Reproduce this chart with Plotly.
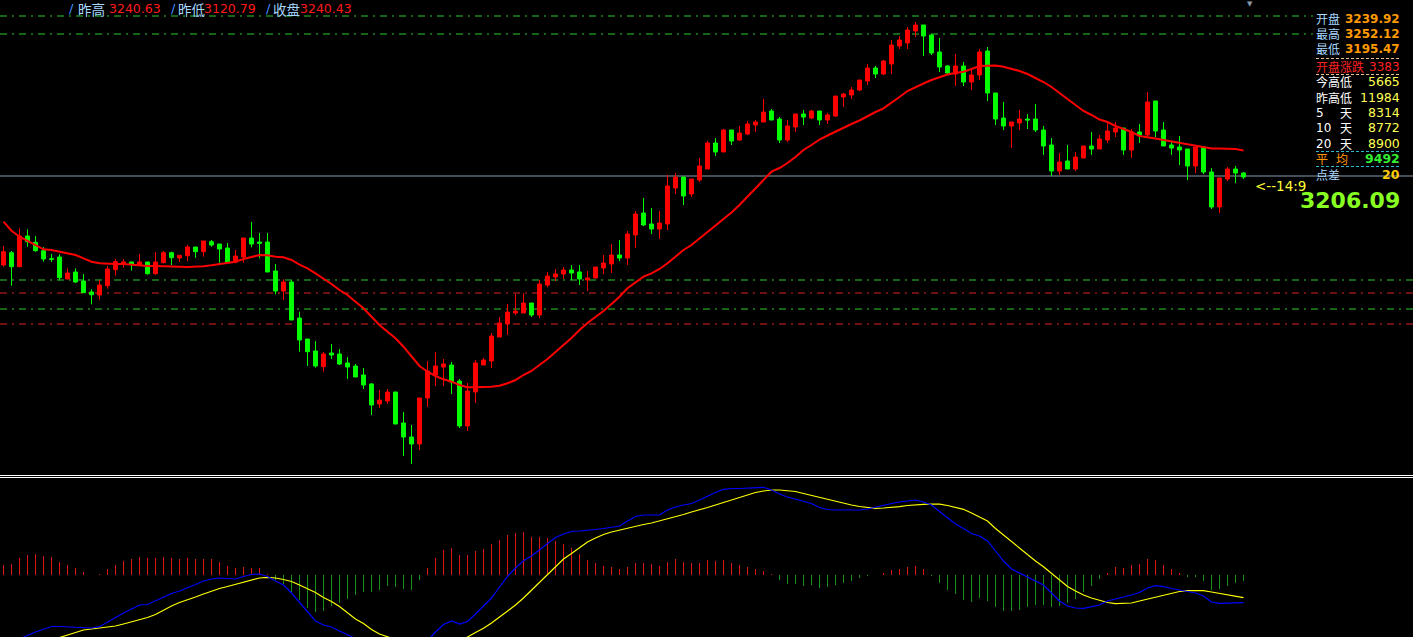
import plotly.graph_objects as go

W, H = 1413, 637

# ---------------- data ----------------
opens = [3228.50, 3229.73, 3228.33, 3231.40, 3230.77, 3229.93, 3229.13, 3229.30, 3227.10, 3227.80,
         3226.90, 3225.80, 3225.50, 3226.43, 3228.03, 3228.67, 3228.80, 3228.47, 3228.80, 3227.63,
         3228.73, 3229.73, 3229.20, 3229.43, 3230.30, 3229.83, 3230.83, 3230.60, 3230.20, 3228.80,
         3229.30, 3231.20, 3230.80, 3230.80, 3227.90, 3225.90, 3226.80, 3223.20, 3221.10, 3219.90,
         3218.33, 3219.70, 3219.60, 3218.70, 3218.40, 3217.50, 3216.60, 3214.60, 3214.90, 3215.80,
         3212.70, 3211.30, 3210.60, 3215.20, 3217.50, 3218.30, 3218.50, 3216.90, 3212.40, 3215.80,
         3218.50, 3218.90, 3221.30, 3222.60, 3223.70, 3223.70, 3224.70, 3223.50, 3226.50, 3227.30,
         3227.60, 3228.00, 3227.80, 3227.00, 3227.20, 3228.20, 3228.60, 3229.50, 3229.20, 3231.50,
         3233.70, 3232.60, 3232.10, 3232.60, 3236.20, 3237.30, 3235.60, 3237.00, 3238.10, 3240.70,
         3239.80, 3242.00, 3241.00, 3241.60, 3242.50, 3242.80, 3243.90, 3243.10, 3241.00, 3242.30,
         3243.60, 3243.20, 3243.90, 3243.00, 3243.40, 3245.30, 3245.50, 3246.00, 3246.90, 3248.20,
         3247.60, 3248.60, 3250.40, 3250.70, 3251.90, 3252.50, 3251.50, 3249.80, 3248.40, 3247.60,
         3248.40, 3246.80, 3247.50, 3249.90, 3245.70, 3243.20, 3242.40, 3242.70, 3243.10, 3243.10,
         3242.00, 3240.50, 3237.90, 3238.90, 3238.10, 3239.20, 3240.40, 3240.10, 3241.00, 3241.80,
         3242.20, 3240.00, 3241.80, 3241.50, 3244.90, 3242.00, 3240.50, 3240.30, 3240.10, 3238.40,
         3240.30, 3237.80, 3234.30, 3237.10, 3238.10, 3237.70]

highs = [3230.40, 3229.90, 3232.17, 3232.07, 3231.40, 3230.30, 3229.60, 3229.57, 3228.17, 3228.17,
         3227.60, 3226.07, 3227.00, 3228.40, 3229.10, 3229.10, 3228.80, 3229.60, 3228.80, 3229.80,
         3229.90, 3229.83, 3229.47, 3230.50, 3230.30, 3230.90, 3231.00, 3230.60, 3230.70, 3230.00,
         3231.20, 3232.80, 3231.70, 3231.70, 3228.60, 3227.07, 3227.00, 3223.83, 3221.10, 3220.90,
         3219.80, 3220.60, 3220.10, 3219.30, 3218.60, 3218.20, 3216.70, 3216.00, 3216.10, 3215.80,
         3213.80, 3212.50, 3215.20, 3218.90, 3219.80, 3219.10, 3218.80, 3217.10, 3216.70, 3219.00,
         3219.20, 3221.70, 3223.30, 3224.60, 3225.60, 3225.70, 3224.70, 3227.00, 3227.80, 3228.10,
         3228.30, 3228.50, 3228.50, 3227.90, 3228.30, 3229.50, 3230.60, 3231.00, 3231.90, 3233.90,
         3235.20, 3234.20, 3233.90, 3237.50, 3237.70, 3237.30, 3237.10, 3239.20, 3240.90, 3241.20,
         3242.10, 3242.00, 3242.40, 3242.90, 3243.00, 3245.10, 3244.10, 3243.30, 3243.00, 3243.60,
         3244.00, 3244.00, 3243.90, 3243.70, 3245.40, 3245.70, 3246.30, 3247.00, 3248.60, 3248.40,
         3249.00, 3251.00, 3251.40, 3252.30, 3252.80, 3252.50, 3251.60, 3251.20, 3248.50, 3249.60,
         3248.80, 3248.00, 3250.10, 3250.30, 3245.70, 3244.80, 3242.80, 3244.00, 3243.60, 3244.60,
         3242.40, 3241.20, 3239.70, 3240.50, 3239.80, 3240.40, 3241.80, 3241.50, 3242.90, 3242.80,
         3242.20, 3242.10, 3242.60, 3245.80, 3244.90, 3242.80, 3240.80, 3241.40, 3240.10, 3240.30,
         3240.30, 3238.20, 3237.20, 3238.30, 3238.40, 3237.80]

lows = [3228.33, 3226.43, 3228.33, 3230.33, 3229.83, 3228.83, 3228.80, 3226.97, 3227.10, 3226.70,
        3225.73, 3224.57, 3225.03, 3226.13, 3227.43, 3228.23, 3227.93, 3228.47, 3227.53, 3227.53,
        3228.67, 3228.50, 3228.80, 3228.90, 3229.23, 3229.33, 3230.33, 3228.73, 3228.80, 3228.67,
        3228.73, 3230.27, 3229.17, 3227.80, 3225.57, 3225.00, 3223.00, 3219.83, 3218.40, 3218.23,
        3217.83, 3219.10, 3218.50, 3217.10, 3217.30, 3216.10, 3213.50, 3214.20, 3214.60, 3212.60,
        3209.40, 3208.60, 3210.00, 3214.30, 3216.40, 3216.40, 3215.60, 3212.20, 3211.90, 3214.70,
        3218.50, 3218.20, 3221.30, 3221.50, 3223.50, 3223.70, 3223.30, 3223.20, 3226.27, 3226.90,
        3227.10, 3227.00, 3226.50, 3225.90, 3227.20, 3227.60, 3227.70, 3228.90, 3228.50, 3230.20,
        3232.40, 3231.60, 3231.10, 3232.00, 3235.60, 3234.50, 3235.30, 3236.80, 3238.10, 3239.40,
        3239.80, 3240.50, 3240.90, 3241.50, 3241.80, 3242.80, 3243.00, 3240.70, 3240.80, 3241.80,
        3242.50, 3243.10, 3242.50, 3242.60, 3243.30, 3244.30, 3245.10, 3245.90, 3246.50, 3247.20,
        3247.50, 3247.60, 3250.10, 3250.10, 3251.30, 3249.40, 3249.50, 3247.80, 3247.60, 3246.40,
        3246.40, 3246.00, 3247.00, 3244.90, 3242.50, 3242.00, 3240.20, 3242.00, 3242.10, 3241.80,
        3239.50, 3237.40, 3237.50, 3238.10, 3237.90, 3239.20, 3239.50, 3240.10, 3240.70, 3241.30,
        3239.50, 3239.20, 3240.70, 3241.30, 3241.30, 3240.40, 3239.50, 3238.50, 3237.00, 3237.70,
        3237.60, 3234.10, 3233.70, 3236.90, 3236.70, 3237.10]

closes = [3229.83, 3228.33, 3231.40, 3230.83, 3229.93, 3229.10, 3229.07, 3227.23, 3227.70, 3226.80,
          3225.73, 3225.53, 3226.50, 3228.10, 3228.83, 3228.80, 3228.60, 3228.80, 3227.63, 3228.80,
          3229.73, 3229.23, 3229.47, 3230.30, 3229.83, 3230.90, 3230.50, 3230.10, 3228.80, 3229.40,
          3231.20, 3230.60, 3230.67, 3227.80, 3225.90, 3226.80, 3223.00, 3221.00, 3219.83, 3218.40,
          3219.60, 3219.50, 3218.60, 3218.30, 3217.30, 3216.50, 3214.50, 3215.00, 3215.80, 3212.60,
          3211.30, 3210.60, 3215.20, 3217.90, 3218.40, 3218.60, 3216.80, 3212.40, 3215.90, 3218.70,
          3219.00, 3221.40, 3222.70, 3223.80, 3223.90, 3224.70, 3223.50, 3226.60, 3227.40, 3227.60,
          3228.00, 3227.70, 3227.10, 3227.20, 3228.30, 3228.70, 3229.50, 3229.20, 3231.60, 3233.60,
          3232.50, 3232.10, 3232.70, 3236.40, 3237.30, 3235.40, 3237.10, 3238.40, 3240.70, 3239.80,
          3242.00, 3240.90, 3241.70, 3242.60, 3242.80, 3243.80, 3243.00, 3241.00, 3242.40, 3243.60,
          3243.30, 3243.90, 3243.00, 3243.50, 3245.40, 3245.60, 3246.00, 3247.00, 3248.20, 3247.60,
          3248.90, 3250.50, 3251.00, 3252.00, 3252.50, 3251.40, 3249.70, 3248.30, 3247.70, 3248.40,
          3246.80, 3247.50, 3249.80, 3245.70, 3243.10, 3242.40, 3242.80, 3243.10, 3243.00, 3242.00,
          3240.40, 3237.90, 3238.80, 3238.10, 3239.30, 3240.40, 3240.10, 3241.10, 3241.90, 3242.20,
          3240.00, 3241.80, 3241.50, 3244.80, 3241.90, 3240.40, 3240.20, 3240.00, 3238.40, 3240.30,
          3237.80, 3234.30, 3237.20, 3238.10, 3237.70, 3237.30]

ma_line = [3232.83, 3231.93, 3231.33, 3230.93, 3230.50, 3230.07, 3230.00, 3229.83, 3229.73, 3229.50,
           3229.17, 3228.83, 3228.67, 3228.60, 3228.60, 3228.60, 3228.53, 3228.47, 3228.40, 3228.40,
           3228.40, 3228.40, 3228.33, 3228.30, 3228.30, 3228.37, 3228.47, 3228.57, 3228.73, 3228.83,
           3229.10, 3229.27, 3229.50, 3229.47, 3229.33, 3229.27, 3229.00, 3228.53, 3228.17, 3227.67,
           3227.17, 3226.60, 3226.00, 3225.50, 3224.83, 3224.17, 3223.33, 3222.50, 3221.83, 3221.17,
           3220.33, 3219.33, 3218.40, 3217.83, 3217.40, 3217.07, 3216.83, 3216.50, 3216.27, 3216.27,
           3216.27, 3216.33, 3216.43, 3216.67, 3217.00, 3217.50, 3217.90, 3218.50, 3219.10, 3219.80,
           3220.50, 3221.20, 3222.00, 3222.70, 3223.30, 3223.90, 3224.60, 3225.33, 3226.17, 3226.73,
           3227.33, 3227.67, 3228.10, 3228.67, 3229.33, 3230.00, 3230.50, 3231.15, 3231.80, 3232.40,
           3233.05, 3233.75, 3234.50, 3235.33, 3236.17, 3237.00, 3237.83, 3238.20, 3238.70, 3239.30,
           3240.00, 3240.50, 3241.05, 3241.45, 3241.85, 3242.20, 3242.60, 3242.95, 3243.40, 3243.80,
           3244.17, 3244.70, 3245.30, 3245.90, 3246.30, 3246.65, 3247.00, 3247.30, 3247.55, 3247.70,
           3247.83, 3248.10, 3248.40, 3248.43, 3248.45, 3248.33, 3248.15, 3247.90, 3247.60, 3247.20,
           3246.80, 3246.30, 3245.70, 3245.10, 3244.50, 3243.90, 3243.50, 3243.05, 3242.80, 3242.40,
           3242.10, 3241.80, 3241.40, 3241.30, 3241.15, 3241.00, 3240.85, 3240.70, 3240.55, 3240.45,
           3240.30, 3240.15, 3240.15, 3240.15, 3240.10, 3239.95]

dif = [-7.00, -6.70, -6.40, -6.05, -5.70, -5.40, -5.15, -5.15, -5.20, -5.25,
       -5.30, -5.30, -5.17, -4.70, -4.20, -3.80, -3.40, -3.00, -2.95, -2.60,
       -2.20, -1.85, -1.60, -1.30, -0.95, -0.60, -0.40, -0.30, -0.35, -0.40,
       -0.15, 0.05, 0.10, -0.15, -0.60, -1.00, -1.80, -2.70, -3.60, -4.60,
       -5.00, -5.20, -5.60, -5.95, -6.30, -6.70, -7.10, -7.50, -7.70, -7.90,
       -8.10, -8.00, -7.50, -6.60, -5.70, -4.95, -4.60, -4.90, -4.65, -3.90,
       -3.15, -2.30, -1.20, -0.15, 0.70, 1.43, 1.90, 2.50, 3.10, 3.75,
       4.10, 4.35, 4.40, 4.45, 4.55, 4.65, 4.75, 4.90, 5.40, 5.85,
       6.00, 6.00, 6.00, 6.50, 6.80, 7.00, 7.15, 7.50, 7.90, 8.25,
       8.57, 8.65, 8.65, 8.70, 8.75, 8.77, 8.50, 8.10, 7.80, 7.60,
       7.40, 7.15, 6.75, 6.55, 6.50, 6.50, 6.50, 6.50, 6.60, 6.80,
       6.95, 7.15, 7.30, 7.40, 7.50, 7.30, 7.00, 6.35, 5.70, 5.10,
       4.65, 4.15, 3.90, 3.40, 2.40, 1.40, 0.60, 0.20, -0.15, -0.55,
       -1.00, -1.80, -2.60, -3.10, -3.30, -3.33, -3.20, -3.00, -2.60, -2.40,
       -2.27, -2.00, -1.75, -1.30, -1.07, -1.17, -1.35, -1.50, -1.65, -1.80,
       -2.10, -2.70, -2.83, -2.83, -2.80, -2.77]

dea = [-8.50, -8.00, -7.60, -7.20, -6.90, -6.60, -6.35, -6.25, -6.00, -5.70,
       -5.50, -5.40, -5.30, -5.20, -5.10, -4.90, -4.70, -4.50, -4.25, -3.95,
       -3.50, -3.10, -2.75, -2.50, -2.20, -1.90, -1.60, -1.35, -1.15, -0.95,
       -0.70, -0.50, -0.30, -0.23, -0.30, -0.45, -0.65, -1.00, -1.35, -1.75,
       -2.25, -2.65, -3.15, -3.75, -4.40, -4.85, -5.45, -5.90, -6.20, -6.50,
       -6.80, -7.00, -7.20, -7.30, -7.20, -7.00, -6.75, -6.50, -6.20, -5.75,
       -5.33, -4.80, -4.20, -3.65, -3.00, -2.30, -1.50, -0.70, 0.10, 0.90,
       1.60, 2.15, 2.75, 3.30, 3.70, 4.05, 4.30, 4.50, 4.67, 4.85,
       5.05, 5.20, 5.40, 5.60, 5.80, 6.05, 6.30, 6.50, 6.75, 7.00,
       7.25, 7.50, 7.75, 8.00, 8.25, 8.40, 8.50, 8.50, 8.45, 8.35,
       8.15, 7.95, 7.75, 7.55, 7.35, 7.15, 7.00, 6.85, 6.75, 6.67,
       6.70, 6.75, 6.83, 6.95, 7.03, 7.07, 7.10, 7.08, 6.95, 6.75,
       6.57, 6.20, 5.80, 5.40, 4.65, 4.00, 3.35, 2.65, 2.00, 1.40,
       0.83, 0.15, -0.55, -1.15, -1.60, -2.00, -2.30, -2.55, -2.75, -2.87,
       -2.87, -2.80, -2.60, -2.40, -2.20, -2.00, -1.80, -1.65, -1.57, -1.57,
       -1.57, -1.70, -1.85, -2.00, -2.15, -2.27]

macd_hist = [1.0, 1.1, 1.7, 2.0, 2.1, 1.9, 1.8, 1.3, 1.0, 0.7,
             0.3, 0.0, 0.1, 0.6, 1.0, 1.4, 1.6, 1.8, 1.7, 1.7,
             1.8, 1.7, 1.6, 1.7, 1.6, 1.6, 1.6, 1.3, 0.9, 0.7,
             0.8, 0.7, 0.7, 0.1, -0.5, -0.9, -1.7, -2.5, -3.3, -3.7,
             -3.6, -3.1, -2.8, -2.4, -2.0, -1.7, -1.7, -1.5, -1.1, -1.2,
             -1.4, -1.5, -0.5, 0.7, 1.7, 2.5,
             2.7, 2.0, 2.0, 2.4, 2.6, 3.1, 3.5, 4.0, 4.2, 4.3,
             3.8, 3.8, 3.7, 3.4, 3.1, 2.7, 2.1, 1.5, 1.2, 0.9,
             0.8, 0.6, 0.8, 1.2, 1.2, 1.1, 0.9, 1.3, 1.6, 1.3,
             1.2, 1.2, 1.5, 1.4, 1.5, 1.2, 1.0, 0.8, 0.6, 0.4,
             0.1, -0.5, -0.9, -0.9, -1.1, -1.0, -1.3, -1.2, -1.0, -0.8,
             -0.6, -0.3, -0.05, 0.0, 0.2, 0.5, 0.6, 0.8, 0.9, 0.6,
             -0.05, -0.8,
             -1.5, -1.9, -2.5, -2.7, -2.3, -2.6, -3.2, -3.6, -3.6, -3.5,
             -3.2, -3.0, -3.0, -3.2, -3.1, -2.8, -2.4, -1.7, -1.1, -0.4,
             0.2, 0.8, 0.7, 1.0, 1.1, 1.6, 1.5, 1.0, 0.6, 0.2,
             -0.2, -0.2, -0.6, -1.5, -1.4, -1.1, -0.8, -0.6]

bar_index = list(range(len(opens)))

# reference price levels
green_top_levels = [3253.40, 3251.60]
band_levels = [3227.00, 3225.70, 3224.10, 3222.60]
band_colors = ["#2ecc2e", "#dd2222", "#2ecc2e", "#dd2222"]
last_price_level = 3237.40

# texts
header_items = [("昨高", "3240.63"), ("昨低", "3120.79"), ("收盘", "3240.43")]
panel_top = [("开盘", "3239.92"), ("最高", "3252.12"), ("最低", "3195.47")]
panel_mid = [("今高低", "5665"), ("昨高低", "11984"), ("5", "8314"), ("10", "8772"), ("20", "8900")]
avg_value = "9492"
spread_value = "20"
open_change = "3383"
time_note = "<--14:9"
last_price_text = "3206.09"

# ---------------- figure ----------------
FONT = "DejaVu Sans, Noto Sans CJK SC"
CJK = "Noto Sans CJK SC, DejaVu Sans"

fig = go.Figure()

fig.add_trace(go.Candlestick(
    x=bar_index, open=opens, high=highs, low=lows, close=closes,
    increasing=dict(line=dict(color="#ff0000", width=1), fillcolor="#ff0000"),
    decreasing=dict(line=dict(color="#00ff00", width=1), fillcolor="#00ff00"),
    whiskerwidth=0, hoverinfo="skip", showlegend=False, xaxis="x", yaxis="y"))

fig.add_trace(go.Scatter(x=bar_index, y=ma_line, mode="lines",
                         line=dict(color="#ff0000", width=2), hoverinfo="skip",
                         showlegend=False, xaxis="x", yaxis="y"))

fig.add_trace(go.Bar(x=bar_index, y=macd_hist, width=0.14,
                     marker=dict(color=["#dd1414" if v > 0 else "#169016" for v in macd_hist],
                                 line=dict(width=0)),
                     hoverinfo="skip", showlegend=False, xaxis="x", yaxis="y2"))
fig.add_trace(go.Scatter(x=bar_index, y=dea, mode="lines",
                         line=dict(color="#ffff00", width=1.2), hoverinfo="skip",
                         showlegend=False, xaxis="x", yaxis="y2"))
fig.add_trace(go.Scatter(x=bar_index, y=dif, mode="lines",
                         line=dict(color="#0000ff", width=1.2), hoverinfo="skip",
                         showlegend=False, xaxis="x", yaxis="y2"))

def px_x(px):
    return px / W

def px_y(py):
    return 1 - py / H

shapes = []
for lv in green_top_levels:
    shapes.append(dict(type="line", xref="paper", yref="y", x0=0, x1=px_x(1313), y0=lv, y1=lv,
                       line=dict(color="#2ecc2e", width=1, dash="7px,5px,2px,5px"), layer="below"))
for lv, col in zip(band_levels, band_colors):
    shapes.append(dict(type="line", xref="paper", yref="y", x0=0, x1=1, y0=lv, y1=lv,
                       line=dict(color=col, width=1, dash="7px,5px,2px,5px"), layer="below"))
shapes.append(dict(type="line", xref="paper", yref="y", x0=0, x1=1, y0=last_price_level,
                   y1=last_price_level, line=dict(color="#8a9aab", width=1), layer="below"))
# separator double line
for py in (475.5, 477.5):
    shapes.append(dict(type="line", xref="paper", yref="paper", x0=0, x1=1, y0=px_y(py), y1=px_y(py),
                       line=dict(color="#ffffff", width=1)))
# panel separators
for py, col in ((58.5, "#e8c090"), (74.5, "#e8c090"), (151.5, "#30b8c8"), (166.5, "#30b8c8")):
    shapes.append(dict(type="line", xref="paper", yref="paper", x0=px_x(1316), x1=px_x(1401),
                       y0=px_y(py), y1=px_y(py), line=dict(color=col, width=1, dash="3px,2px")))

anns = []
def ann(px, py, text, color, size, anchor="left", family=FONT, bold=False, box_h=None):
    t = f"<b>{text}</b>" if bold else text
    d = dict(x=px_x(px), y=px_y(py), xref="paper", yref="paper", text=t, showarrow=False,
             xanchor=anchor, yanchor="middle", borderpad=0,
             font=dict(color=color, size=size, family=family))
    if box_h:
        d["height"] = box_h
    anns.append(d)

# header
hx = [(68, 77, 108), (170, 177, 203), (265, 272, 299)]
for (sx, lx, vx), (lab, val) in zip(hx, header_items):
    ann(sx, 9, "/", "#3f8fff", 13)
    ann(lx, 9, lab, "#a8d8ff", 13.5, family=CJK)
    ann(vx, 9, val, "#ff1a1a", 12.5)

# right panel
BH = 13
rows_top = [18.5, 33.5, 48.5]
for py, (lab, val) in zip(rows_top, panel_top):
    ann(1315, py, lab, "#a8d8ff", 12, family=CJK, box_h=BH)
    ann(1401, py, val, "#ff9a00", 12, anchor="right", bold=True, box_h=BH)
ann(1315, 66.5, "开盘涨跌", "#ff2020", 12, family=CJK, box_h=BH)
ann(1401, 66.5, open_change, "#ff2020", 12, anchor="right", box_h=BH)
rows_mid = [82, 97.5, 112.5, 128, 143]
for py, (lab, val) in zip(rows_mid, panel_mid):
    if lab.isdigit():
        ann(1315, py, lab, "#ffffff", 12, box_h=BH)
        ann(1339, py, "天", "#ffffff", 12, family=CJK, box_h=BH)
    else:
        ann(1315, py, lab, "#ffffff", 12, family=CJK, box_h=BH)
    ann(1401, py, val, "#ffff55", 12.5, anchor="right", box_h=BH)
ann(1315, 158.5, "平", "#ff9a00", 12, family=CJK, box_h=BH)
ann(1335, 158.5, "均", "#ff9a00", 12, family=CJK, box_h=BH)
ann(1401, 158.5, avg_value, "#33ee33", 12.5, anchor="right", bold=True, box_h=BH)
ann(1315, 174.5, "点差", "#a8d8ff", 12, family=CJK, box_h=BH)
ann(1401, 174.5, spread_value, "#ffcc00", 12.5, anchor="right", bold=True, box_h=BH)
ann(1254, 186, time_note.replace("<", "&lt;"), "#ffff33", 13.5)
ann(1401, 200, last_price_text, "#88ff22", 22, anchor="right", bold=True)
ann(1250, 4, "▼", "#8a9aab", 7, anchor="center")

fig.update_layout(
    width=W, height=H, margin=dict(l=0, r=0, t=0, b=0),
    paper_bgcolor="#000000", plot_bgcolor="#000000",
    showlegend=False, shapes=shapes, annotations=anns, bargap=0,
    xaxis=dict(range=[-0.4375, 176.1875], visible=False, showgrid=False, zeroline=False,
               rangeslider=dict(visible=False), fixedrange=True),
    yaxis=dict(domain=[1 - 474 / H, 1], range=[3207.6, 3255.0], visible=False,
               showgrid=False, zeroline=False, fixedrange=True),
    yaxis2=dict(domain=[0, 1 - 480 / H], range=[-6.2, 9.5], visible=False,
                showgrid=False, zeroline=False, fixedrange=True),
    hovermode=False,
)

fig.write_html("out.html", config={"displayModeBar": False, "staticPlot": True},
               post_script="document.body.style.margin='0';document.body.style.background='#000';")
